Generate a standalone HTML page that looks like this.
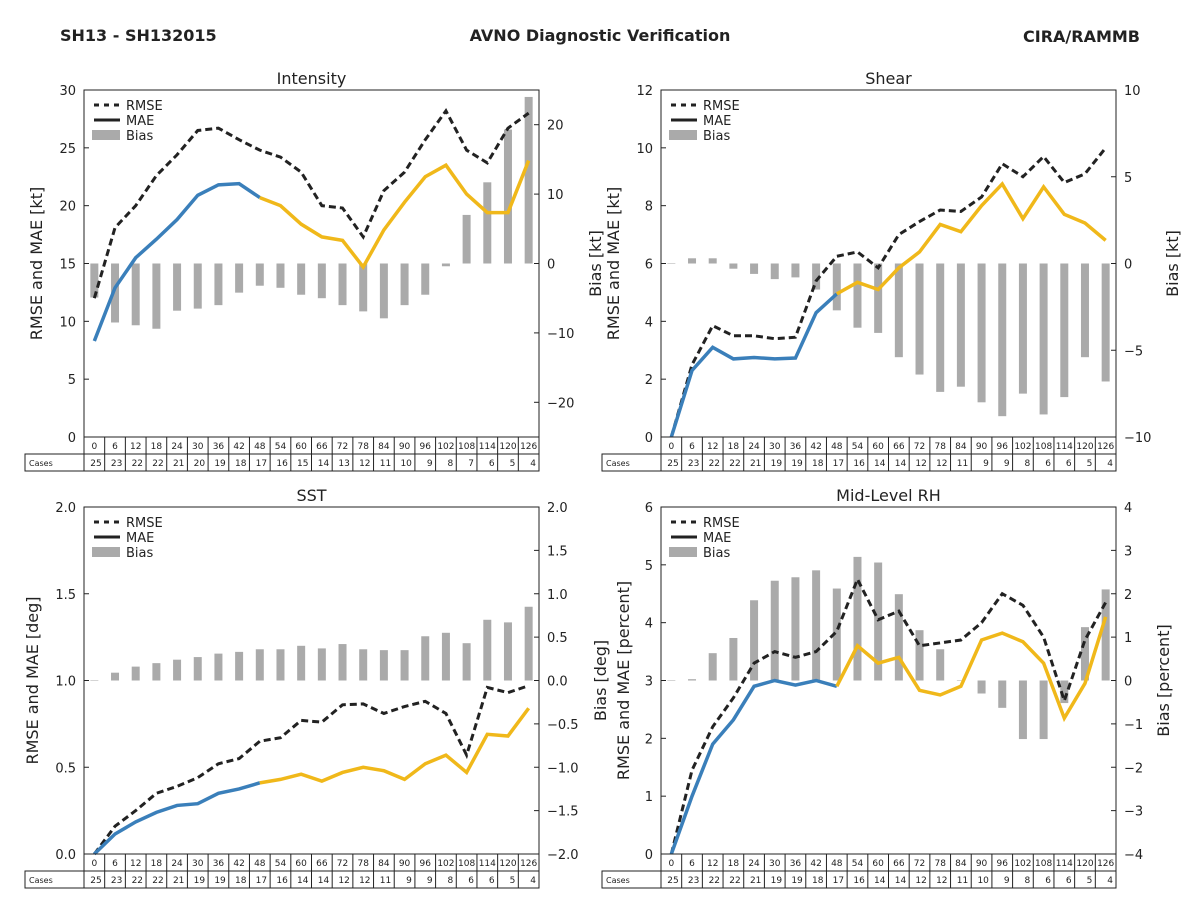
<!DOCTYPE html>
<html><head><meta charset="utf-8"><style>
body{margin:0;background:#fff;font-family:"Liberation Sans","DejaVu Sans",sans-serif}
svg text{font-family:"DejaVu Sans","Liberation Sans",sans-serif;fill:#222}
</style></head><body>
<svg id="c" width="1200" height="900">
<text x="60" y="41" font-size="16" font-weight="bold">SH13 - SH132015</text>
<text x="600" y="41" font-size="16" font-weight="bold" text-anchor="middle">AVNO Diagnostic Verification</text>
<text x="1140" y="42" font-size="16" font-weight="bold" text-anchor="end">CIRA/RAMMB</text>
</svg>
<script>
const hours=[0,6,12,18,24,30,36,42,48,54,60,66,72,78,84,90,96,102,108,114,120,126];
const intRmse=[12.0,18.1,20,22.6,24.4,26.5,26.7,25.7,24.8,24.2,22.9,20,19.8,17.3,21.3,22.9,25.7,28.2,24.8,23.7,26.7,28];
const intMae=[8.3,12.9,15.5,17.1,18.8,20.9,21.8,21.9,20.7,20,18.4,17.3,17,14.7,17.9,20.3,22.5,23.5,21,19.4,19.4,23.9];
const intBias=[-4.9,-8.5,-8.9,-9.4,-6.8,-6.5,-6,-4.2,-3.2,-3.5,-4.5,-5,-6,-6.9,-7.9,-6,-4.5,-0.4,7,11.7,19.3,24];
const intCases=[25,23,22,22,21,20,19,18,17,16,15,14,13,12,11,10,9,8,7,6,5,4];
const shrRmse=[0,2.5,3.85,3.5,3.5,3.4,3.45,5.4,6.25,6.4,5.85,7.0,7.45,7.85,7.8,8.3,9.45,9.0,9.7,8.8,9.1,10];
const shrMae=[0,2.3,3.1,2.7,2.75,2.7,2.73,4.3,4.95,5.35,5.1,5.85,6.4,7.35,7.1,8.0,8.75,7.55,8.65,7.7,7.4,6.8];
const shrBias=[0,0.3,0.3,-0.3,-0.6,-0.9,-0.8,-1.5,-2.7,-3.7,-4,-5.4,-6.4,-7.4,-7.1,-8,-8.8,-7.5,-8.7,-7.7,-5.4,-6.8];
const shrCases=[25,23,22,22,21,19,19,18,17,16,14,14,12,12,11,9,9,8,6,6,5,4];
const sstRmse=[0,0.16,0.25,0.35,0.39,0.44,0.52,0.55,0.65,0.67,0.77,0.76,0.86,0.865,0.81,0.85,0.88,0.81,0.57,0.96,0.93,0.97];
const sstMae=[0,0.115,0.185,0.24,0.28,0.29,0.35,0.375,0.41,0.43,0.46,0.42,0.47,0.5,0.48,0.43,0.52,0.57,0.47,0.69,0.68,0.84];
const sstBias=[0,0.09,0.16,0.2,0.24,0.27,0.31,0.33,0.36,0.36,0.4,0.37,0.42,0.36,0.35,0.35,0.51,0.55,0.43,0.7,0.67,0.85];
const sstCases=[25,23,22,22,21,19,19,18,17,16,14,14,12,12,11,9,9,8,6,6,5,4];
const rhRmse=[0,1.45,2.2,2.7,3.3,3.5,3.4,3.5,3.85,4.75,4.05,4.2,3.6,3.65,3.7,4.0,4.5,4.3,3.75,2.65,3.7,4.35];
const rhMae=[0,1.0,1.9,2.32,2.9,3.0,2.92,3.0,2.9,3.6,3.3,3.4,2.83,2.75,2.9,3.7,3.82,3.67,3.3,2.35,2.95,4.1];
const rhBias=[0,0.03,0.63,0.98,1.85,2.3,2.38,2.54,2.12,2.85,2.72,1.99,1.16,0.72,0,-0.3,-0.63,-1.35,-1.35,-0.52,1.23,2.1];
const rhCases=[25,23,22,22,21,19,19,18,17,16,14,14,12,12,11,10,9,8,6,6,5,4];

const svg=document.getElementById('c');
const NS='http://www.w3.org/2000/svg';
function mk(tag,attrs,parent,txt){const e=document.createElementNS(NS,tag);for(const k in attrs)e.setAttribute(k,attrs[k]);if(txt!==undefined)e.textContent=txt;(parent||svg).appendChild(e);return e;}

function panel(o){
  const g=mk('g',{});
  
  
  const L=o.x,T=o.y,W=455,H=347,R=L+W,B=T+H;
  const n=hours.length,cw=W/n;
  const xs=i=>L+cw*(i+0.5);
  const yl=v=>B-(v-o.lmin)/(o.lmax-o.lmin)*H;
  const yr=v=>B-(v-o.rmin)/(o.rmax-o.rmin)*H;
  // bias bars
  o.bias.forEach((v,i)=>{
    const y0=yr(0),y1=yr(v);
    const b=mk('rect',{x:xs(i)-4,y:Math.min(y0,y1),width:8,height:Math.max(Math.abs(y1-y0),0.5),fill:'#aaaaaa'},g);
    
    
  });
  // rmse dashed
  const rp=o.rmse.map((v,i)=>xs(i)+','+yl(v)).join(' ');
  const rl=mk('polyline',{points:rp,fill:'none',stroke:'#222','stroke-width':3,'stroke-dasharray':'7,4'},g);
  
  
  // mae blue up to 48h, yellow from 48h
  const split=8;
  const bp=o.mae.slice(0,split+1).map((v,i)=>xs(i)+','+yl(v)).join(' ');
  const yp=o.mae.slice(split).map((v,i)=>xs(i+split)+','+yl(v)).join(' ');
  const ml=mk('polyline',{points:bp,fill:'none',stroke:'#3a7fba','stroke-width':3.5},g);
  
  
  const ml2=mk('polyline',{points:yp,fill:'none',stroke:'#f0b81a','stroke-width':3.5},g);
  
  
  // frame
  mk('rect',{x:L,y:T,width:W,height:H,fill:'none',stroke:'#222','stroke-width':1},g);
  // ticks
  o.lticks.forEach(t=>{const y=yl(t);mk('line',{x1:L,x2:L+5,y1:y,y2:y,stroke:'#222'},g);
    const tx=mk('text',{x:L-8,y:y+5,'font-size':13,'text-anchor':'end'},g,t.toFixed(o.ldec));
    
    });
  o.rticks.forEach(t=>{const y=yr(t);mk('line',{x1:R-5,x2:R,y1:y,y2:y,stroke:'#222'},g);
    const lbl=(t<0?'\u2212':'')+Math.abs(t).toFixed(o.rdec);
    const tx=mk('text',{x:R+8,y:y+5,'font-size':13},g,lbl);
    
    });
  const ti=mk('text',{x:L+W/2,y:T-6,'font-size':16,'text-anchor':'middle'},g,o.title);
  
  
  const la=mk('text',{x:0,y:0,'font-size':16,'text-anchor':'middle',transform:`translate(${o.llx},${T+H/2}) rotate(-90)`},g,o.lLabel);
  
  
  const ra=mk('text',{x:0,y:0,'font-size':16,'text-anchor':'middle',transform:`translate(${o.rlx},${T+H/2}) rotate(-90)`},g,o.rLabel);
  
  
  // legend
  const lg=mk('g',{},g);
  
  
  mk('line',{x1:L+10,x2:L+36,y1:T+15,y2:T+15,stroke:'#222','stroke-width':3,'stroke-dasharray':'5,5'},lg);
  mk('text',{x:L+42,y:T+20,'font-size':13},lg,'RMSE');
  mk('line',{x1:L+10,x2:L+36,y1:T+30,y2:T+30,stroke:'#222','stroke-width':3},lg);
  mk('text',{x:L+42,y:T+35,'font-size':13},lg,'MAE');
  mk('rect',{x:L+8,y:T+40,width:28,height:10,fill:'#aaaaaa'},lg);
  mk('text',{x:L+42,y:T+50,'font-size':13},lg,'Bias');
  // table
  const tb=mk('g',{},g);
  
  
  mk('rect',{x:L,y:B,width:W,height:17,fill:'none',stroke:'#222'},tb);
  mk('rect',{x:L-59,y:B+17,width:W+59,height:17,fill:'none',stroke:'#222'},tb);
  mk('text',{x:L-55,y:B+29,'font-size':8},tb,'Cases');
  hours.forEach((h,i)=>{
    const x0=L+cw*i;
    mk('line',{x1:x0,x2:x0,y1:B,y2:B+34,stroke:'#222'},tb);
    mk('text',{x:x0+cw/2,y:B+12,'font-size':9,'text-anchor':'middle'},tb,h);
    mk('text',{x:x0+cw-3,y:B+29,'font-size':9,'text-anchor':'end'},tb,o.cases[i]);
  });
}
panel({name:'intensity',title:'Intensity',x:84,y:90,lmin:0,lmax:30,rmin:-25,rmax:25,lticks:[0,5,10,15,20,25,30],rticks:[-20,-10,0,10,20],ldec:0,rdec:0,
  rmse:intRmse,mae:intMae,bias:intBias,cases:intCases,lLabel:'RMSE and MAE [kt]',rLabel:'Bias [kt]',llx:42,rlx:601});
panel({name:'shear',title:'Shear',x:661,y:90,lmin:0,lmax:12,rmin:-10,rmax:10,lticks:[0,2,4,6,8,10,12],rticks:[-10,-5,0,5,10],ldec:0,rdec:0,
  rmse:shrRmse,mae:shrMae,bias:shrBias,cases:shrCases,lLabel:'RMSE and MAE [kt]',rLabel:'Bias [kt]',llx:619,rlx:1178});
panel({name:'sst',title:'SST',x:84,y:507,lmin:0,lmax:2,rmin:-2,rmax:2,lticks:[0,0.5,1,1.5,2],rticks:[-2,-1.5,-1,-0.5,0,0.5,1,1.5,2],ldec:1,rdec:1,
  rmse:sstRmse,mae:sstMae,bias:sstBias,cases:sstCases,lLabel:'RMSE and MAE [deg]',rLabel:'Bias [deg]',llx:38,rlx:606});
panel({name:'mid-level-rh',title:'Mid-Level RH',x:661,y:507,lmin:0,lmax:6,rmin:-4,rmax:4,lticks:[0,1,2,3,4,5,6],rticks:[-4,-3,-2,-1,0,1,2,3,4],ldec:0,rdec:0,
  rmse:rhRmse,mae:rhMae,bias:rhBias,cases:rhCases,lLabel:'RMSE and MAE [percent]',rLabel:'Bias [percent]',llx:629,rlx:1169});
</script>
</body></html>
